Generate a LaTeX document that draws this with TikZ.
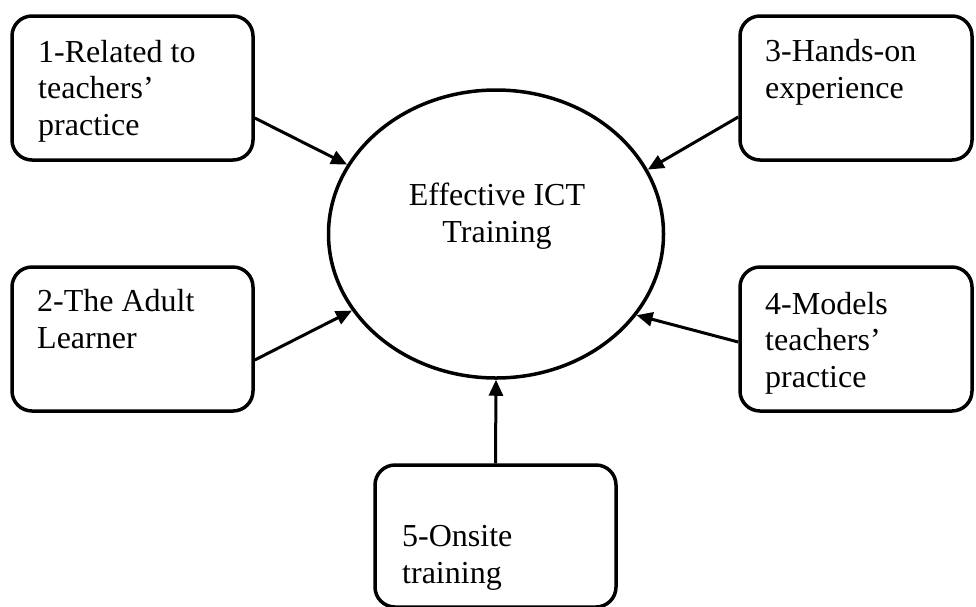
\documentclass[tikz,border=0pt]{standalone}
\usepackage{fontspec}
\setmainfont{Liberation Serif}
\usetikzlibrary{shapes.geometric,arrows.meta,calc}

\tikzset{
  factorbox/.style={draw, line width=3.5pt, rounded corners=20pt, inner sep=0pt,
    minimum width=#1, minimum height=144pt},
  factorbox/.default=241pt,
  hub/.style={draw, ellipse, line width=3.5pt, inner sep=0pt,
    minimum width=335pt, minimum height=288pt},
  % anchored at the baseline of the last line
  lbl/.style={inner sep=0pt, align=left, anchor=base west,
    font=\fontsize{32}{36.5}\selectfont},
  hubtext/.style={inner sep=0pt, align=center, anchor=base,
    font=\fontsize{32}{37}\selectfont},
  feed/.style={line width=3pt, -{Triangle[length=16pt,width=14pt]}}
}

\begin{document}
\begin{tikzpicture}[x=1pt, y=-1pt]
  \useasboundingbox (0,0) rectangle (976,606);
  \fill[white] (0,0) rectangle (976,606);

  % central concept
  \node[hub] (c) at (496,234) {};
  \node[hubtext] (ctext) at (497,242) {Effective ICT\\Training};

  % surrounding factors
  \node[factorbox] (b1) at (132.5,88) {};
  \node[factorbox=232pt] (b3) at (856,88) {};
  \node[factorbox] (b2) at (132.5,339) {};
  \node[factorbox=232pt] (b4) at (856,339) {};
  \node[factorbox, minimum height=142pt] (b5) at (495.5,536) {};

  \node[lbl] (t1) at (38,135) {1-Related to\\teachers'\\practice};
  \node[lbl] (t3) at (765,98) {3-Hands-on\\experience};
  \node[lbl] (t2) at (37,348) {2-The Adult\\Learner};
  \node[lbl] (t4) at (765,387) {4-Models\\teachers'\\practice};
  \node[lbl] (t5) at (402,583) {5-Onsite\\training};

  % connectors into the hub
  \draw[feed] ($(b1.east)+(0,30)$) -- (c.155);
  \draw[feed] ($(b3.west)+(0,29)$) -- (c.23);
  \draw[feed] ($(b2.east)+(0,21)$) -- (c.208);
  \draw[feed] ($(b4.west)+(0,3)$) -- (c.330);
  \draw[feed] (b5.north) -- (c.270);
\end{tikzpicture}
\end{document}
